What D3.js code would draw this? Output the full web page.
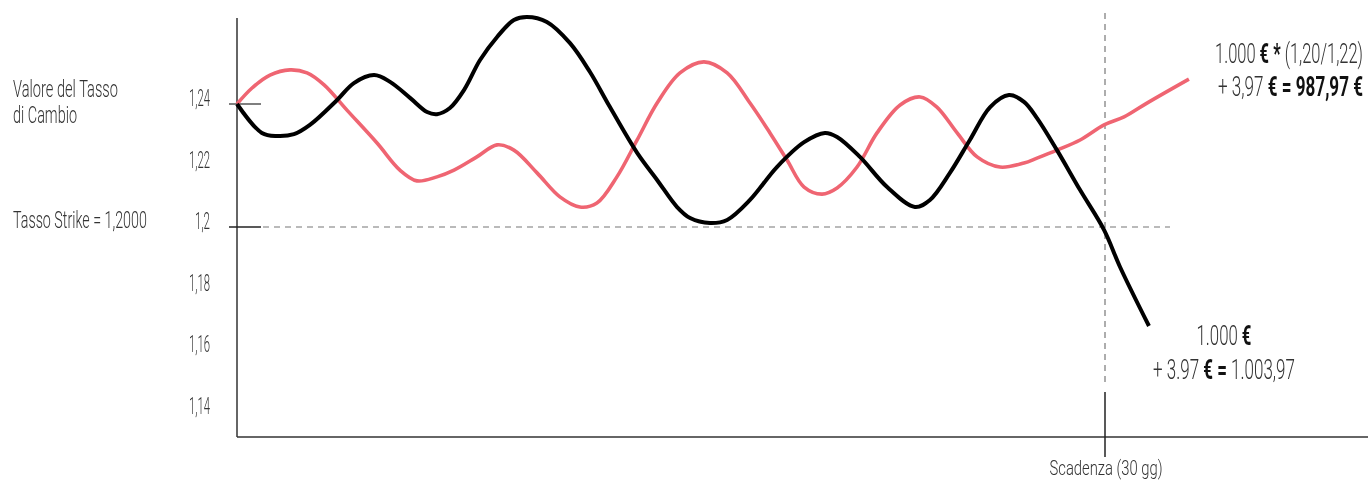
<!DOCTYPE html>
<html>
<head>
<meta charset="utf-8">
<script src="https://cdn.jsdelivr.net/npm/d3@7"></script>
<style>
  html, body { margin: 0; padding: 0; background: #fff; }
  svg { display: block; }
  text { font-family: Roboto, "Liberation Sans", sans-serif; white-space: pre; }
  .lbl { filter: grayscale(1); }
</style>
</head>
<body>
<div id="chart"></div>
<script>
// time axis in days (expiry at day 30), exchange rate values
const blackDays = [0, 0.86, 1.38, 1.97, 2.52, 3.46, 4.04, 4.74, 5.29, 5.98, 6.57, 6.91, 7.36, 7.85, 8.40, 8.99, 9.57, 10.02, 10.71, 11.51, 12.20, 12.89, 13.83, 14.52, 15.21, 15.66, 16.35, 16.94, 17.73, 18.66, 19.60, 20.32, 20.74, 21.53, 22.47, 23.43, 23.95, 24.64, 25.33, 26.03, 26.68, 27.20, 27.65, 28.34, 29.14, 29.97, 30.52, 31.52];
const blackRate = [1.2400, 1.2306, 1.2296, 1.2302, 1.2332, 1.2413, 1.2468, 1.2494, 1.2472, 1.2420, 1.2374, 1.2367, 1.2387, 1.2446, 1.2543, 1.2618, 1.2673, 1.2683, 1.2667, 1.2598, 1.2504, 1.2390, 1.2241, 1.2153, 1.2065, 1.2029, 1.2013, 1.2023, 1.2088, 1.2195, 1.2276, 1.2306, 1.2293, 1.2228, 1.2130, 1.2065, 1.2088, 1.2176, 1.2283, 1.2390, 1.2429, 1.2407, 1.2354, 1.2250, 1.2120, 1.1990, 1.1870, 1.1678];

const redDays = [0, 0.52, 1.14, 1.83, 2.42, 3.01, 3.80, 4.84, 5.63, 6.22, 6.91, 7.50, 8.29, 8.99, 9.57, 10.37, 11.16, 11.85, 12.44, 13.13, 13.83, 14.52, 15.31, 16.14, 16.94, 17.73, 18.42, 19.01, 19.60, 20.22, 20.74, 21.43, 22.12, 22.92, 23.61, 24.19, 24.89, 25.58, 26.37, 27.20, 27.65, 28.34, 29.14, 29.97, 30.66, 31.45, 32.90];
const redRate = [1.2400, 1.2452, 1.2494, 1.2511, 1.2501, 1.2462, 1.2380, 1.2273, 1.2185, 1.2150, 1.2163, 1.2185, 1.2228, 1.2267, 1.2250, 1.2176, 1.2098, 1.2065, 1.2078, 1.2163, 1.2283, 1.2403, 1.2501, 1.2537, 1.2501, 1.2403, 1.2306, 1.2218, 1.2130, 1.2107, 1.2127, 1.2195, 1.2306, 1.2397, 1.2423, 1.2390, 1.2306, 1.2228, 1.2195, 1.2208, 1.2224, 1.2250, 1.2283, 1.2332, 1.2358, 1.2403, 1.2481];

const tickValues = [1.24, 1.22, 1.2, 1.18, 1.16, 1.14];
const tickLabels = ['1,24', '1,22', '1,2', '1,18', '1,16', '1,14'];

const strike = 1.2;
const spotStart = 1.24;
const expiryDay = 30;

const width = 1368;
const height = 481;

const svg = d3.select('#chart').append('svg')
    .attr('width', width)
    .attr('height', height);

const x = d3.scaleLinear().domain([0, expiryDay]).range([237, 1105]);
const y = d3.scaleLinear().domain([strike, spotStart]).range([227, 104]);

// condensed text: draw normally, then squeeze horizontally to the wanted width
function label(parts, px, py, size, targetWidth, anchor) {
    const g = svg.append('g').attr('class', 'lbl');
    const t = g.append('text')
        .attr('text-anchor', anchor || 'start')
        .style('font-size', size + 'px');
    parts.forEach(function (p) {
        t.append('tspan')
            .text(p[0])
            .attr('font-weight', p[1] ? 700 : 300)
            .attr('fill', p[1] ? '#111' : '#333');
    });
    const w = t.node().getComputedTextLength();
    g.attr('transform', `translate(${px},${py}) scale(${targetWidth / w},1)`);
    return g;
}

// axes
svg.append('line')
    .attr('x1', 237).attr('x2', 237)
    .attr('y1', 18).attr('y2', 437)
    .attr('stroke', '#333').attr('stroke-width', 1.5);
svg.append('line')
    .attr('x1', 237).attr('x2', width)
    .attr('y1', 437).attr('y2', 437)
    .attr('stroke', '#333').attr('stroke-width', 1.5);

// tick marks at start rate and strike
svg.append('line')
    .attr('x1', 229).attr('x2', 261)
    .attr('y1', y(spotStart)).attr('y2', y(spotStart))
    .attr('stroke', '#555').attr('stroke-width', 1.5);
svg.append('line')
    .attr('x1', 229).attr('x2', 261)
    .attr('y1', y(strike)).attr('y2', y(strike))
    .attr('stroke', '#222').attr('stroke-width', 1.5);

// strike dashed line
svg.append('line')
    .attr('x1', 263).attr('x2', 1170)
    .attr('y1', y(strike)).attr('y2', y(strike))
    .attr('stroke', '#777').attr('stroke-width', 1.2)
    .attr('stroke-dasharray', '6,5');

// expiry dashed line + tick
svg.append('line')
    .attr('x1', x(expiryDay)).attr('x2', x(expiryDay))
    .attr('y1', 13).attr('y2', 382)
    .attr('stroke', '#777').attr('stroke-width', 1.2)
    .attr('stroke-dasharray', '6,5');
svg.append('line')
    .attr('x1', x(expiryDay)).attr('x2', x(expiryDay))
    .attr('y1', 392).attr('y2', 457)
    .attr('stroke', '#222').attr('stroke-width', 1.5);

// tick labels
tickValues.forEach(function (v, i) {
    label([[tickLabels[i], false]], 210, y(v) + 2, 23, tickLabels[i].length === 3 ? 15 : 21, 'end');
});

// series
const line = d3.line()
    .x(d => x(d[0]))
    .y(d => y(d[1]))
    .curve(d3.curveCatmullRom.alpha(0.5));

svg.append('path')
    .datum(d3.zip(redDays, redRate))
    .attr('fill', 'none')
    .attr('stroke', '#ef6572')
    .attr('stroke-width', 3.6)
    .attr('d', line);

svg.append('path')
    .datum(d3.zip(blackDays, blackRate))
    .attr('fill', 'none')
    .attr('stroke', '#000')
    .attr('stroke-width', 4)
    .attr('d', line);

// left captions
label([['Valore del Tasso', false]], 13, 97, 24, 105);
label([['di Cambio', false]], 13, 123, 24, 64);
label([['Tasso Strike = 1,2000', false]], 13, 228, 23, 134);

// right annotations
label([['1.000 ', false], ['€ *', true], [' (1,20/1,22)', false]], 1363, 63, 27, 148, 'end');
label([['+ 3,97 ', false], ['€ = 987,97 €', true]], 1363, 96, 27, 145, 'end');

label([['1.000 ', false], ['€', true]], 1224, 345, 27, 55, 'middle');
label([['+ 3.97 ', false], ['€ =', true], [' 1.003,97', false]], 1224, 379, 27, 142, 'middle');

label([['Scadenza (30 gg)', false]], 1106, 475, 21, 113, 'middle');
</script>
</body>
</html>
